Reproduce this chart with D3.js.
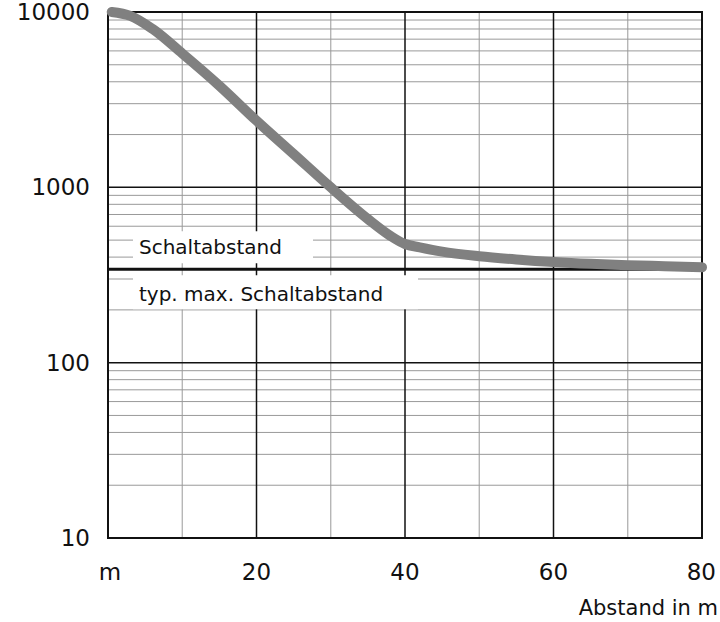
<!DOCTYPE html>
<html lang="de">
<head>
<meta charset="UTF-8">
<script src="https://d3js.org/d3.v7.min.js"></script>
<style>
  body { margin: 0; background: #fff; }
  text { font-family: "DejaVu Sans", sans-serif; fill: #111; }
</style>
</head>
<body>
<svg width="720" height="622"></svg>
<script>
// curve: distance (m) vs. value
const distance = [0.5, 3, 6, 10, 15, 20, 25, 30, 35, 38, 40, 42, 45, 50, 55, 60, 65, 70, 75, 80];
const values   = [10000, 9500, 8000, 5800, 3800, 2400, 1550, 1000, 660, 530, 475, 455, 430, 405, 388, 375, 366, 360, 355, 350];
const limitValue = 341;
const xTicks = [20, 40, 60, 80];
const yTicks = [10, 100, 1000, 10000];

(function draw() {
const svg = d3.select("svg");
const pLeft = 108, pRight = 702, pTop = 12, pBottom = 538;

const x = d3.scaleLinear().domain([0, 80]).range([pLeft, pRight]);
const y = d3.scaleLog().domain([10, 10000]).range([pBottom, pTop]);

const grid = svg.append("g");
// minor vertical
grid.selectAll(".vmin").data([10, 30, 50, 70]).join("line")
    .attr("x1", d => x(d)).attr("x2", d => x(d)).attr("y1", pTop).attr("y2", pBottom)
    .attr("stroke", "#aaa").attr("stroke-width", 1.2);
// minor horizontal
const minors = [];
[10, 100, 1000].forEach(dec => { for (let i = 2; i <= 9; i++) minors.push(dec * i); });
grid.selectAll(".hmin").data(minors).join("line")
    .attr("x1", pLeft).attr("x2", pRight).attr("y1", d => y(d)).attr("y2", d => y(d))
    .attr("stroke", "#999").attr("stroke-width", 1);
// major
grid.selectAll(".vmaj").data([20, 40, 60]).join("line")
    .attr("x1", d => x(d)).attr("x2", d => x(d)).attr("y1", pTop).attr("y2", pBottom)
    .attr("stroke", "#111").attr("stroke-width", 1.5);
grid.selectAll(".hmaj").data([100, 1000]).join("line")
    .attr("x1", pLeft).attr("x2", pRight).attr("y1", d => y(d)).attr("y2", d => y(d))
    .attr("stroke", "#111").attr("stroke-width", 1.5);
svg.append("rect").attr("x", pLeft).attr("y", pTop).attr("width", pRight - pLeft).attr("height", pBottom - pTop)
    .attr("fill", "none").attr("stroke", "#111").attr("stroke-width", 2);

// limit line + labels
const ly = y(limitValue);
svg.append("rect").attr("x", 133).attr("y", ly - 38).attr("width", 180).attr("height", 32).attr("fill", "#fff");
svg.append("rect").attr("x", 133).attr("y", ly + 6).attr("width", 285).attr("height", 34).attr("fill", "#fff");
svg.append("line").attr("x1", pLeft).attr("x2", pRight).attr("y1", ly).attr("y2", ly)
    .attr("stroke", "#111").attr("stroke-width", 3);
svg.append("text").attr("x", 139).attr("y", ly - 15).attr("font-size", 20).text("Schaltabstand");
svg.append("text").attr("x", 139).attr("y", ly + 32).attr("font-size", 20).text("typ. max. Schaltabstand");

// curve
svg.append("path")
    .datum(distance.map((d, i) => [d, values[i]]))
    .attr("d", d3.line().x(d => x(d[0])).y(d => y(d[1])).curve(d3.curveMonotoneX))
    .attr("fill", "none").attr("stroke", "#808080").attr("stroke-width", 10).attr("stroke-linecap", "round");

// axis labels
svg.selectAll(".yl").data(yTicks).join("text")
    .attr("x", 90).attr("y", d => y(d) + 8).attr("text-anchor", "end").attr("font-size", 23)
    .text(d => d3.format("d")(d));
svg.selectAll(".xl").data(xTicks).join("text")
    .attr("x", d => x(d)).attr("y", 580).attr("text-anchor", d => d === 80 ? "end" : "middle")
    .attr("dx", d => d === 80 ? 14 : 0).attr("font-size", 23).text(d => d);
svg.append("text").attr("x", 110).attr("y", 580).attr("text-anchor", "middle").attr("font-size", 23).text("m");
svg.append("text").attr("x", 718).attr("y", 615).attr("text-anchor", "end").attr("font-size", 21).text("Abstand in m");
})();
</script>
</body>
</html>
